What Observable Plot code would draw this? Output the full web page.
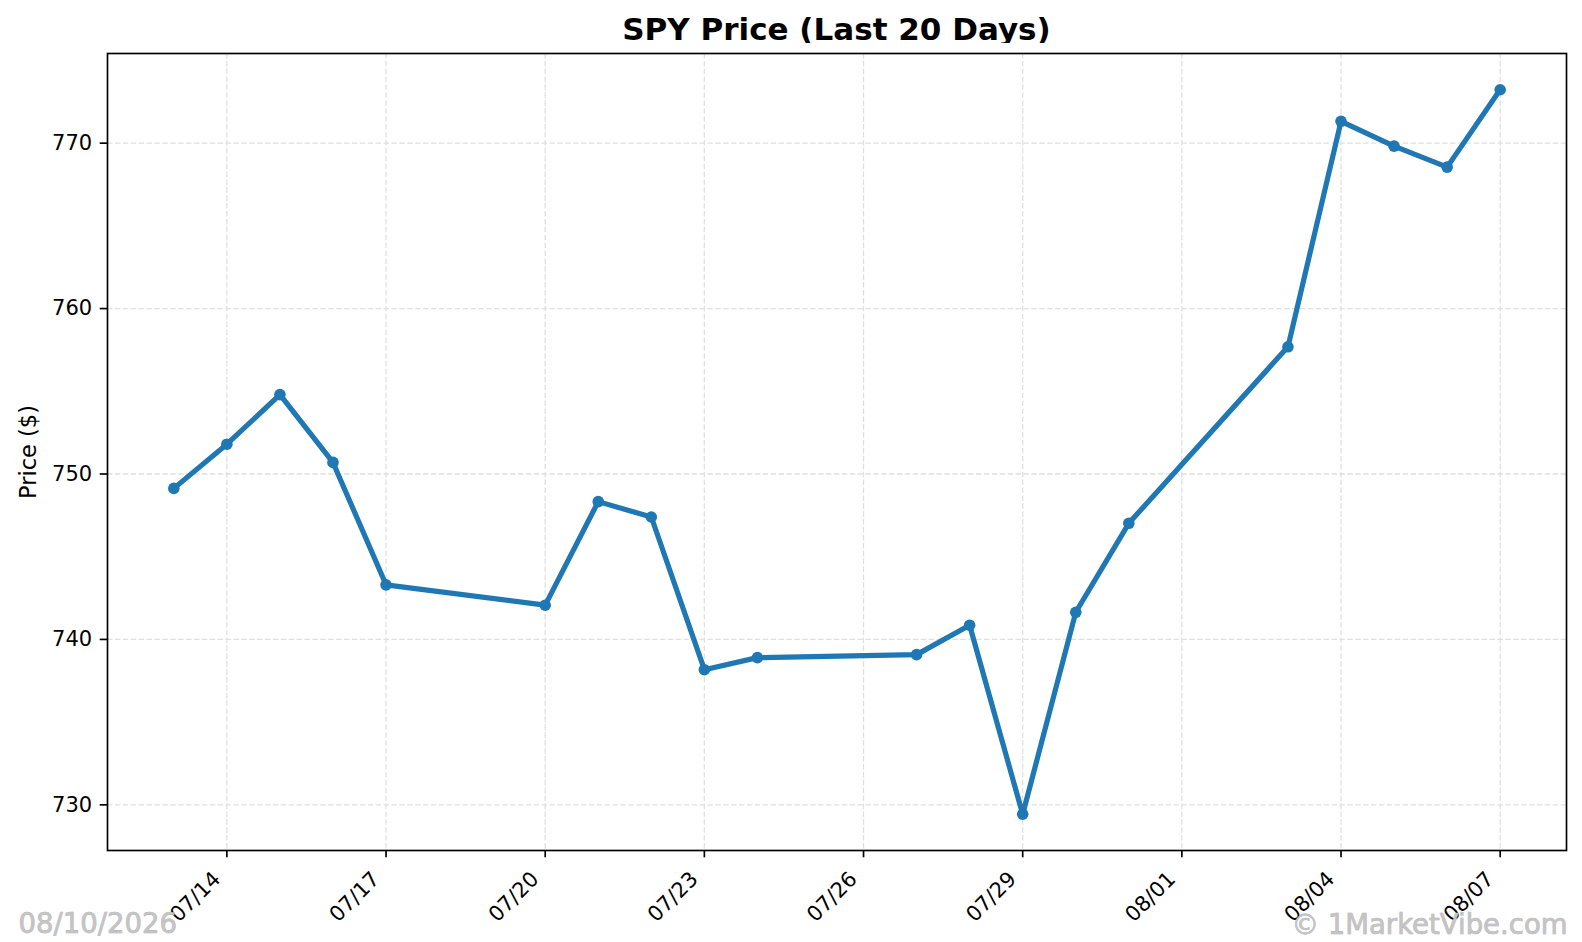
<!DOCTYPE html>
<html>
<head>
<meta charset="utf-8">
<script src="https://cdn.jsdelivr.net/npm/d3@7"></script>
<script src="https://cdn.jsdelivr.net/npm/@observablehq/plot@0.6"></script>
<style>
  html, body { margin: 0; padding: 0; background: #fff; }
  #wrap { position: relative; width: 1582px; height: 942px; overflow: hidden; font-family: "DejaVu Sans", sans-serif; }
  #title { position: absolute; left: 107px; width: 1459px; top: 14px; line-height: 31px; font-size: 31px; font-weight: bold; text-align: center; color: #000; white-space: nowrap; }
  #chart { position: absolute; left: 0; top: 43px; }
</style>
</head>
<body>
<div id="wrap">
  <div id="title">SPY Price (Last 20 Days)</div>
  <div id="chart"></div>
</div>
<script>
// ---- data ----
const dates = ["2026-07-13","2026-07-14","2026-07-15","2026-07-16","2026-07-17",
               "2026-07-20","2026-07-21","2026-07-22","2026-07-23","2026-07-24",
               "2026-07-27","2026-07-28","2026-07-29","2026-07-30","2026-07-31",
               "2026-08-03","2026-08-04","2026-08-05","2026-08-06","2026-08-07"];
const prices = [749.13, 751.80, 754.80, 750.70, 743.30,
                742.07, 748.33, 747.40, 738.17, 738.90,
                739.08, 740.86, 729.43, 741.64, 747.02,
                757.69, 771.32, 769.82, 768.55, 773.23];
const xTickDates = ["2026-07-14","2026-07-17","2026-07-20","2026-07-23","2026-07-26",
                    "2026-07-29","2026-08-01","2026-08-04","2026-08-07"];
const yTicks = [730, 740, 750, 760, 770];
const titleText = "SPY Price (Last 20 Days)";
const yLabel = "Price ($)";
const leftNote = "08/10/2026";
const rightNote = "© 1MarketVibe.com";

const data = dates.map((d, i) => ({date: new Date(d + "T00:00:00Z"), price: prices[i]}));
const xTicks = xTickDates.map(d => new Date(d + "T00:00:00Z"));

// matplotlib-like 5% margins
const [x0, x1] = d3.extent(data, d => +d.date);
const [y0, y1] = d3.extent(data, d => d.price);
const xPad = (x1 - x0) * 0.05, yPad = (y1 - y0) * 0.05;

const W = 1582, H = 899;
const fmt = d3.utcFormat("%m/%d");

const chart = Plot.plot({
  width: W,
  height: H,
  marginTop: 10,
  marginBottom: 92,
  marginLeft: 107,
  marginRight: 16,
  style: {fontFamily: "DejaVu Sans, sans-serif", fontSize: "21px", background: "white", color: "black", overflow: "visible"},
  x: {type: "utc", domain: [new Date(x0 - xPad), new Date(x1 + xPad)]},
  y: {domain: [y0 - yPad, y1 + yPad]},
  marks: [
    Plot.gridX(xTicks, {stroke: "#e0e0e0", strokeOpacity: 1, strokeWidth: 1.3, strokeDasharray: "5.5,2.4"}),
    Plot.gridY(yTicks, {stroke: "#e0e0e0", strokeOpacity: 1, strokeWidth: 1.3, strokeDasharray: "5.5,2.4"}),
    Plot.line(data, {x: "date", y: "price", stroke: "#1f77b4", strokeWidth: 5.2, strokeLinejoin: "round", strokeLinecap: "square"}),
    Plot.dot(data, {x: "date", y: "price", r: 5.8, fill: "#1f77b4", stroke: "none"}),
    Plot.frame({stroke: "#000", strokeWidth: 1.67}),
    Plot.axisY(yTicks, {tickSize: 7.3, tickPadding: 8, strokeWidth: 1.67, label: null, fontSize: 21, textAnchor: "end"}),
    // x tick marks only
    Plot.axisX(xTicks, {tickSize: 7.3, strokeWidth: 1.67, label: null, tickFormat: () => ""}),
    // rotated x tick labels
    Plot.axisX(xTicks, {tickSize: 0, tickPadding: 25, label: null, fontSize: 21,
      tickFormat: fmt, tickRotate: -45, textAnchor: "end", lineAnchor: "middle", dx: -10}),
    Plot.text([yLabel], {frameAnchor: "left", text: d => d, rotate: -90, dx: -79, fontSize: 22.5, lineAnchor: "middle", textAnchor: "middle", fill: "#000"}),
    Plot.text([leftNote], {frameAnchor: "bottom-left", text: d => d, dx: -89, dy: 73.4, fontSize: 27.5, lineAnchor: "middle", textAnchor: "start",
      fill: "#c4c4c4", stroke: "#a8a8a8", strokeWidth: 0.6}),
    Plot.text([rightNote], {frameAnchor: "bottom-right", text: d => d, dx: 1, dy: 74.4, fontSize: 27.5, lineAnchor: "middle", textAnchor: "end",
      fill: "#c4c4c4", stroke: "#a8a8a8", strokeWidth: 0.6})
  ]
});
document.getElementById("chart").appendChild(chart);
</script>
</body>
</html>
